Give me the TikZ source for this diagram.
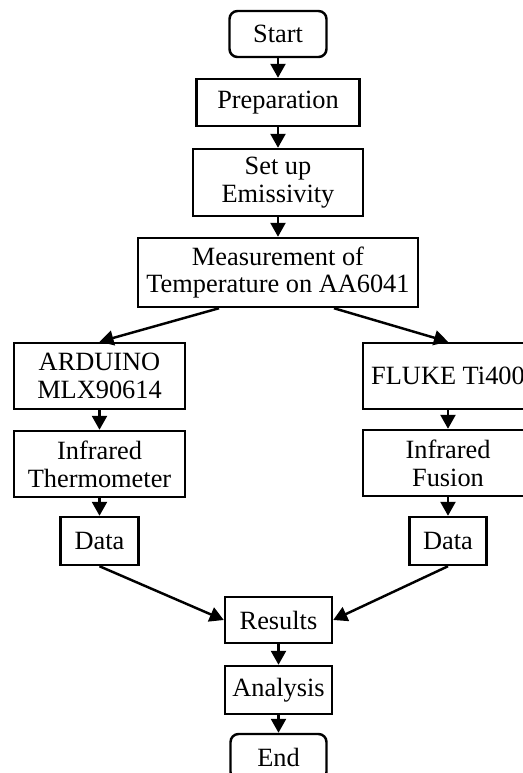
\documentclass[tikz,border=0pt]{standalone}
\usepackage{fontspec}
\setmainfont{Liberation Serif}
\usetikzlibrary{arrows.meta}

\begin{document}
\begin{tikzpicture}[line width=1.4pt,
    box/.style={draw,align=center,inner sep=0pt,font=\fontsize{15pt}{15.8pt}\selectfont},
    term/.style={box,rounded corners=0.16cm},
    flow/.style={-{Triangle[length=0.28cm,width=0.3cm]}}]
    \clip (0,0) rectangle (10.46,-15.46);
    % main column
    \node[term,minimum width=1.94cm,minimum height=0.92cm] (start) at (5.56,-0.68) {Start};
    \node[box,minimum width=3.26cm,minimum height=0.94cm] (prep) at (5.56,-2.05) {Preparation};
    \node[box,minimum width=3.4cm,minimum height=1.34cm] (setup) at (5.56,-3.65) {Set up\\Emissivity};
    \node[box,minimum width=5.6cm,minimum height=1.38cm] (meas) at (5.56,-5.45) {Measurement of\\Temperature on AA6041};
    % left branch
    \node[box,minimum width=3.42cm,minimum height=1.32cm] (ard) at (1.99,-7.52) {ARDUINO\\MLX90614};
    \node[box,minimum width=3.42cm,minimum height=1.32cm] (irt) at (1.99,-9.28) {Infrared\\Thermometer};
    \node[box,minimum width=1.56cm,minimum height=0.96cm] (dataL) at (1.99,-10.82) {Data};
    % right branch
    \node[box,minimum width=3.4cm,minimum height=1.32cm] (fluke) at (8.96,-7.52) {FLUKE Ti400};
    \node[box,minimum width=3.4cm,minimum height=1.32cm] (irf) at (8.96,-9.26) {Infrared\\Fusion};
    \node[box,minimum width=1.54cm,minimum height=0.96cm] (dataR) at (8.96,-10.82) {Data};
    % bottom
    \node[box,minimum width=2.14cm,minimum height=0.92cm] (results) at (5.57,-12.4) {Results};
    \node[box,minimum width=2.14cm,minimum height=0.96cm] (analysis) at (5.57,-13.8) {Analysis};
    \node[term,minimum width=1.92cm,minimum height=0.92cm] (finish) at (5.57,-15.14) {End};

    \draw[flow] (start) -- (prep);
    \draw[flow] (prep) -- (setup);
    \draw[flow] (setup) -- (meas);
    \draw[flow] ([xshift=-1.18cm]meas.south) -- (ard.north);
    \draw[flow] ([xshift=1.12cm]meas.south) -- (fluke.north);
    \draw[flow] (ard) -- (irt);
    \draw[flow] (irt) -- (dataL);
    \draw[flow] (fluke) -- (irf);
    \draw[flow] (irf) -- (dataR);
    \draw[flow] (dataL.south) -- (results.west);
    \draw[flow] (dataR.south) -- (results.east);
    \draw[flow] (results) -- (analysis);
    \draw[flow] (analysis) -- (finish);
\end{tikzpicture}
\end{document}
